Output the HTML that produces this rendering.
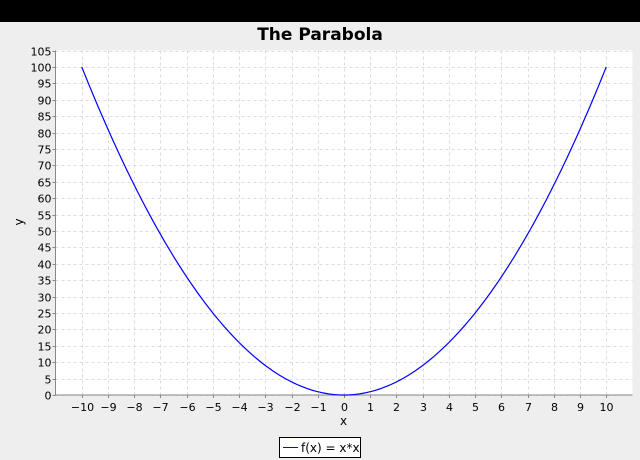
<!DOCTYPE html>
<html><head><meta charset="utf-8"><style>
body{margin:0;width:640px;height:460px;background:#eeeeee;overflow:hidden;font-family:"DejaVu Sans","Liberation Sans",sans-serif;}
svg{display:block}
</style></head><body>
<svg width="640" height="460">
<rect x="0" y="0" width="640" height="22" fill="#000"/>
<text x="320" y="40" text-anchor="middle" font-size="17" font-weight="bold" fill="#000">The Parabola</text>
<rect x="55.5" y="50.5" width="577" height="344.5" fill="#fff"/>
<g id="grid"></g>
<g id="axes"></g>
<path id="curve" fill="none" stroke="#0000ff" stroke-width="1.2"/>
<text x="343.5" y="425" text-anchor="middle" font-size="12">x</text>
<text transform="translate(23,222) rotate(-90)" text-anchor="middle" font-size="12">y</text>
<g>
<rect x="279.5" y="437.5" width="81" height="20" fill="#fff" stroke="#000"/>
<line x1="283" y1="447.5" x2="298" y2="447.5" stroke="#0000ff"/>
<text x="301" y="452" font-size="12">f(x) = x*x</text>
</g>
</svg>
<script>
const xTicks=[-10,-9,-8,-7,-6,-5,-4,-3,-2,-1,0,1,2,3,4,5,6,7,8,9,10];
const yTicks=[0,5,10,15,20,25,30,35,40,45,50,55,60,65,70,75,80,85,90,95,100,105];
const xVals=[];for(let i=-100;i<=100;i++)xVals.push(i/10);
const yVals=xVals.map(v=>v*v);
const L=55.5,R=632.5,T=50.5,B=395;
const sx=v=>L+(v+11)/22*(R-L), sy=v=>B-v/105*(B-T);
const NS="http://www.w3.org/2000/svg";
const g=document.getElementById('grid'),a=document.getElementById('axes');
function mk(p,tag,at){const e=document.createElementNS(NS,tag);for(const k in at)e.setAttribute(k,at[k]);p.appendChild(e);return e;}
xTicks.forEach(t=>{const x=Math.round(sx(t))+0.5;
const l=mk(g,'line',{x1:x,x2:x,y1:T,y2:B,stroke:'#dcdcdc','stroke-dasharray':'3,3'});


mk(a,'line',{x1:x,x2:x,y1:B,y2:B+3,stroke:'#888'});
const tx=mk(a,'text',{x:x,y:B+16,'text-anchor':'middle','font-size':'11'});tx.textContent=t<0?'\u2212'+(-t):t;

});
yTicks.forEach(t=>{const y=Math.round(sy(t))+0.5;
const l=mk(g,'line',{x1:L,x2:R,y1:y,y2:y,stroke:'#dcdcdc','stroke-dasharray':'3,3'});


mk(a,'line',{x1:L-3,x2:L,y1:y,y2:y,stroke:'#888'});
const tx=mk(a,'text',{x:L-4,y:y+4,'text-anchor':'end','font-size':'11'});tx.textContent=t;

});
mk(a,'line',{x1:L,x2:L,y1:T,y2:B,stroke:'#888'});
mk(a,'line',{x1:L,x2:R,y1:B,y2:B,stroke:'#888'});
document.getElementById('curve').setAttribute('d',xVals.map((v,i)=>(i?'L':'M')+sx(v).toFixed(2)+','+sy(yVals[i]).toFixed(2)).join(''));
</script>
</body></html>
